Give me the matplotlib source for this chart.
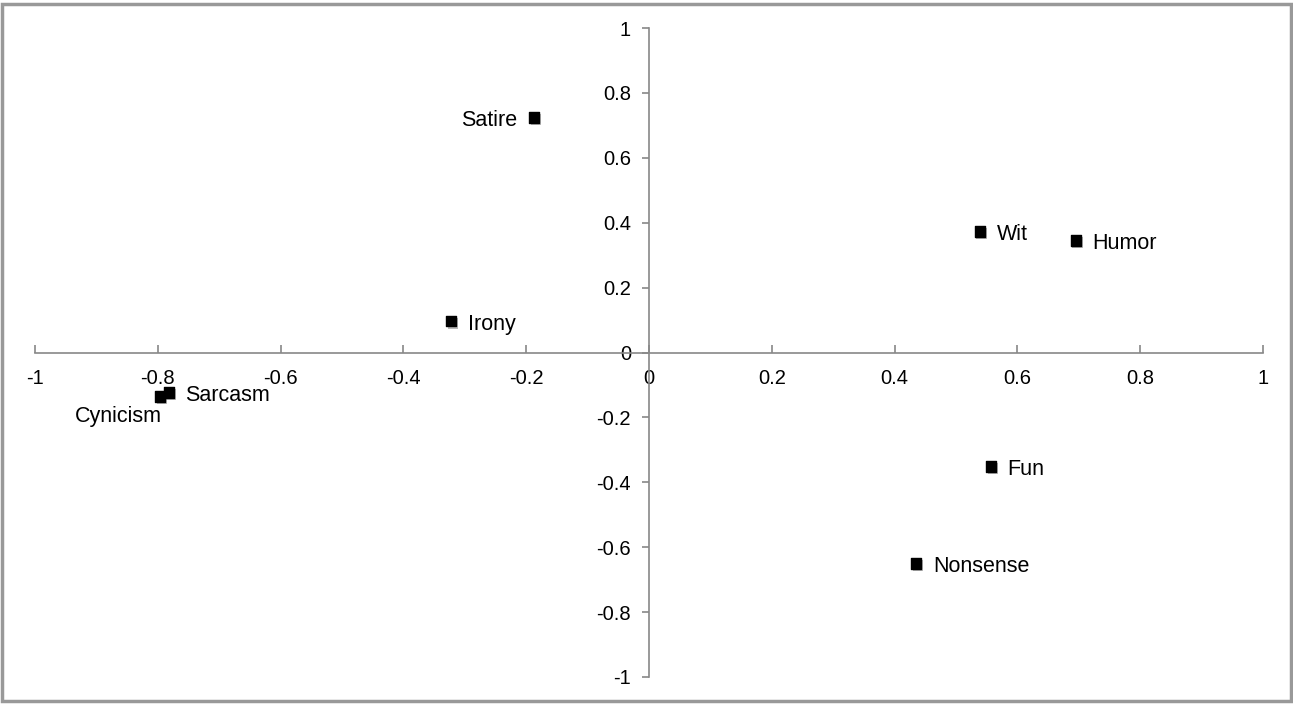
import matplotlib
matplotlib.use('Agg')
import matplotlib.pyplot as plt
import matplotlib.patheffects as pe
from matplotlib.patches import Rectangle

plt.rcParams['font.family'] = ['Liberation Sans', 'DejaVu Sans']

terms = ['Satire', 'Wit', 'Humor', 'Irony', 'Sarcasm', 'Cynicism', 'Fun', 'Nonsense']
x_vals = [-0.187, 0.539, 0.695, -0.322, -0.782, -0.796, 0.557, 0.435]
y_vals = [0.724, 0.373, 0.345, 0.096, -0.123, -0.136, -0.351, -0.650]
ticks = [-1, -0.8, -0.6, -0.4, -0.2, 0, 0.2, 0.4, 0.6, 0.8, 1]
tick_labels = ['-1', '-0.8', '-0.6', '-0.4', '-0.2', '0', '0.2', '0.4', '0.6', '0.8', '1']

fig = plt.figure(figsize=(12.93, 7.04), dpi=100)
ax = fig.add_axes([35/1293, 1 - 677/704, 1228/1293, 649/704])

# border around the whole picture
fig.patches.append(Rectangle((0.0015, 0.004), 0.997, 0.99, transform=fig.transFigure,
                             fill=False, edgecolor='#999999', linewidth=2.5))

# points with a soft shadow
ax.scatter(x_vals, y_vals, marker='s', s=55, color='black', zorder=3,
           path_effects=[pe.SimplePatchShadow(offset=(1.2, -1.5), shadow_rgbFace='#888888', alpha=0.6),
                         pe.Normal()])

offsets = {
    'Satire': (-12, -2, 'right', 'center'),
    'Cynicism': (1, -14, 'right', 'center'),
}
for name, xv, yv in zip(terms, x_vals, y_vals):
    dx, dy, ha, va = offsets.get(name, (12, -2, 'left', 'center'))
    ax.annotate(name, (xv, yv), xytext=(dx, dy), textcoords='offset points',
                ha=ha, va=va, fontsize=15.5)

ax.set_xlim(-1, 1)
ax.set_ylim(-1, 1)
for s in ['top', 'right']:
    ax.spines[s].set_visible(False)
ax.spines['left'].set_position(('data', 0))
ax.spines['bottom'].set_position(('data', 0))
for s in ['left', 'bottom']:
    ax.spines[s].set_color('#888888')
    ax.spines[s].set_linewidth(1.2)

ax.set_xticks(ticks)
ax.set_xticklabels(tick_labels)
ax.set_yticks(ticks)
ax.set_yticklabels(tick_labels)
ax.tick_params(axis='x', direction='in', length=6, width=1.2, color='#888888',
               labelsize=14.5, pad=12)
ax.tick_params(axis='y', direction='out', length=5, width=1.2, color='#888888',
               labelsize=14.5, pad=8)
plt.savefig('out.png', dpi=100)
